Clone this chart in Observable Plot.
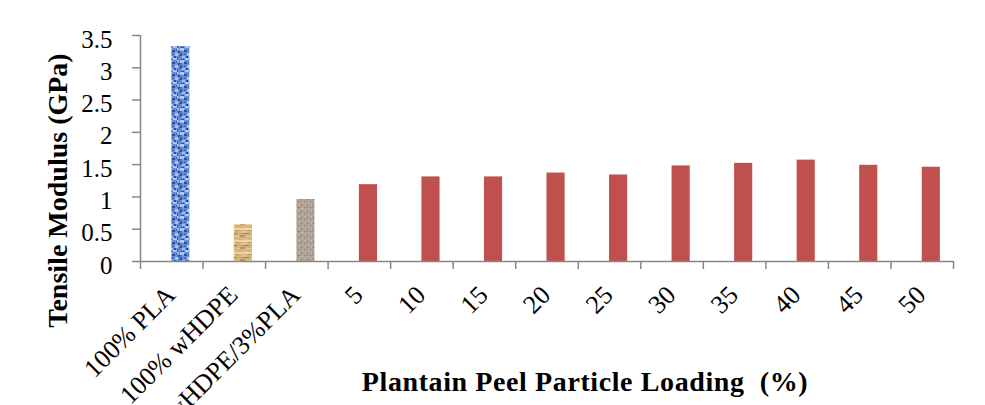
<!DOCTYPE html>
<html><head><meta charset="utf-8">
<script src="https://cdn.jsdelivr.net/npm/d3@7"></script>
<script src="https://cdn.jsdelivr.net/npm/@observablehq/plot@0.6"></script>
<style>
body{margin:0;background:#fff}
#chart svg{overflow:hidden}
.ttl{letter-spacing:0.6px}
</style>
</head><body><div id="chart"></div>
<script>
const categories = ["100% PLA","100% wHDPE","97%wHDPE/3%PLA","5","10","15","20","25","30","35","40","45","50"];
const modulus = [3.33,0.57,0.96,1.19,1.31,1.31,1.37,1.34,1.48,1.52,1.57,1.49,1.46];
const barFills = ["url(#pla)","url(#hdpe)","url(#blend)","#c0504d","#c0504d","#c0504d","#c0504d","#c0504d","#c0504d","#c0504d","#c0504d","#c0504d","#c0504d"];
const yTicks = [0,0.5,1,1.5,2,2.5,3,3.5];
const yTickLabels = ["0","0.5","1","1.5","2","2.5","3","3.5"];
const xTitle = "Plantain Peel Particle Loading \u00a0(%)";
const yTitle = "Tensile Modulus (GPa)";

const rows = categories.map((c,i)=>({i, cat:c, value:modulus[i], fill:barFills[i]}));
const boundaries = d3.range(categories.length + 1);
const axisColor = "#868686";
const font = "'Liberation Serif', 'Times New Roman', serif";

const chart = Plot.plot({
  width: 985, height: 405,
  marginLeft: 140, marginRight: 32, marginTop: 35, marginBottom: 144,
  style: {fontFamily: font, background: "#fff", color: "#000"},
  x: {domain: [0, categories.length], axis: null},
  y: {domain: [0, 3.5], axis: null},
  color: {type: "identity"},
  marks: [
    Plot.rectY(rows, {x1: d => d.i + 0.5, x2: d => d.i + 0.79, y1: 0, y2: "value", fill: "fill"}),
    Plot.axisY({ticks: yTicks, tickSize: 8, tickFormat: () => "", stroke: axisColor, strokeWidth: 1.5, label: null}),
    Plot.axisX({ticks: boundaries, tickSize: 8, tickFormat: () => "", stroke: axisColor, strokeWidth: 1.5, label: null}),
    Plot.ruleX([0], {y1: 0, y2: 3.5, stroke: axisColor, strokeWidth: 1.5}),
    Plot.ruleY([0], {x1: 0, x2: categories.length, stroke: axisColor, strokeWidth: 1.5}),
    Plot.text(yTicks, {x: 0, y: d => d, text: d => yTickLabels[yTicks.indexOf(d)], textAnchor: "end", dx: -28, dy: 4, fontSize: 25, fill: "#000"}),
    Plot.text(rows, {x: d => d.i + 0.5, y: 0, text: "cat", rotate: -45, textAnchor: "end", lineAnchor: "bottom", dx: 5, dy: 35, fontSize: 26, fill: "#000"}),
    Plot.text([xTitle], {frameAnchor: "bottom", lineAnchor: "bottom", dx: 38, dy: 129, fontSize: 28, fontWeight: "bold", fill: "#000", className: "ttl"}),
    Plot.text([yTitle], {frameAnchor: "left", rotate: -90, textAnchor: "middle", lineAnchor: "bottom", dx: -74, dy: 42, fontSize: 28, fontWeight: "bold", fill: "#000"})
  ]
});

// texture patterns for the first three bars
const svg = d3.select(chart);
const defs = svg.insert("defs", ":first-child");
function pattern(id, w, h, bg, pieces) {
  const p = defs.append("pattern").attr("id", id).attr("patternUnits", "userSpaceOnUse").attr("width", w).attr("height", h);
  p.append("rect").attr("width", w).attr("height", h).attr("fill", bg);
  pieces.forEach(([x,y,pw,ph,c]) => p.append("rect").attr("x",x).attr("y",y).attr("width",pw).attr("height",ph).attr("fill",c));
}
pattern("pla", 12, 12, "#6a8fd6", [
  [0,0,4,3,"#a9c6f4"],[7,5,3,3,"#a9c6f4"],[2,8,3,2,"#9dbcf0"],[9,0,2,2,"#9dbcf0"],[5,10,4,2,"#a9c6f4"],
  [4,2,3,2,"#2f4f98"],[0,5,2,3,"#2f4f98"],[10,3,2,2,"#2f4f98"],[6,8,2,2,"#2f4f98"],[1,11,3,1,"#2f4f98"],[9,10,1,2,"#2f4f98"],
  [4,5,2,2,"#4a6fb8"],[8,1,1,2,"#4a6fb8"],[0,3,2,1,"#4a6fb8"],[11,7,1,3,"#4a6fb8"]
]);
pattern("hdpe", 12, 12, "#d6b27c", [
  [0,0,12,2,"#ecd4a6"],[1,3,6,2,"#e4c590"],[2,5,7,1,"#a97e4a"],[0,7,5,2,"#bf955e"],[6,8,6,1,"#e6c894"],[8,2,3,1,"#c49a63"],[3,10,6,2,"#dcbc86"]
]);
pattern("blend", 6, 6, "#b1a395", [
  [1,1,1,1,"#7f6e60"],[4,3,1,1,"#8d7c6e"],[2,4,1,1,"#d6ccc1"],[0,3,1,1,"#9a8a7c"],[5,0,1,1,"#d2c7bb"]
]);

document.getElementById("chart").appendChild(chart);
</script>
</body></html>
